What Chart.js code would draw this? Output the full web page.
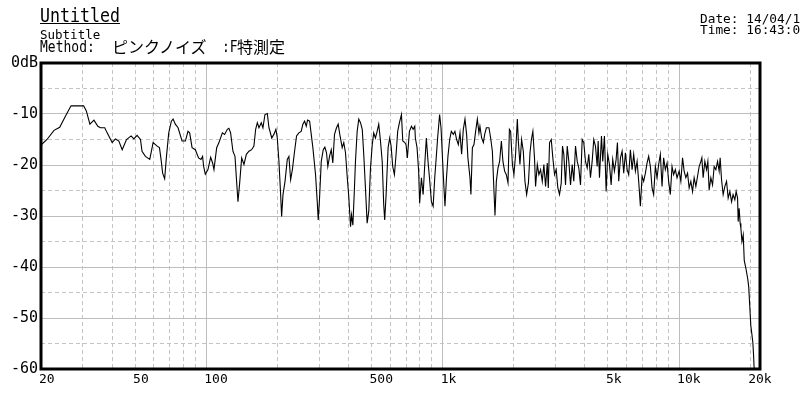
<!DOCTYPE html>
<html><head><meta charset="utf-8">
<script src="https://cdn.jsdelivr.net/npm/chart.js@4"></script>
<style>
html,body{margin:0;padding:0;background:#fff;width:800px;height:400px;overflow:hidden}
#wrap{position:relative;width:800px;height:400px;overflow:hidden}
canvas{position:absolute;left:0;top:0}
.t{position:absolute;white-space:pre;color:#000;font-family:'DejaVu Sans Mono',monospace;transform-origin:0 0;line-height:1}
.j{position:absolute;white-space:pre;color:#000;font-family:'Noto Sans CJK JP',sans-serif;line-height:1;font-size:16px}
</style></head><body>
<div id="wrap">
<canvas id="c" width="800" height="400"></canvas>
<div class="t" style="left:40px;top:5px;font-size:20px;transform:scaleX(0.83);text-decoration:underline;text-decoration-thickness:1px">Untitled</div>
<div class="t" style="left:40px;top:29px;font-size:12.5px">Subtitle</div>
<div class="t" style="left:40px;top:38px;font-size:13px;transform:scaleY(1.27)">Method:</div>
<div class="j" style="left:112px;top:38px">ピンクノイズ</div>
<div class="t" style="left:222px;top:38px;font-size:13px;transform:scaleY(1.27)">:F</div>
<div class="j" style="left:237px;top:38px">特測定</div>
<div class="t" style="left:700px;top:13px;font-size:12.8px">Date: 14/04/1</div>
<div class="t" style="left:700px;top:24px;font-size:12.8px">Time: 16:43:0</div>
</div>
<script>
const freqHz = [20,21.2,22.7,24.0,25.4,26.8,30.3,31.1,32.2,33.5,34.8,35.7,37.2,38.1,40.0,41.3,42.7,44.1,46.0,48.1,49.4,51.0,52.7,53.5,55.3,57.7,59.6,62.0,63.4,64.4,65.4,66.7,67.8,69.4,71.2,72.4,74.0,76.0,79.0,81.6,83.7,85.1,87.1,89.9,92.8,95.0,96.5,97.5,99.1,
101.7,104.4,106.4,107.8,110.7,113.2,117.0,119.6,122.8,124.7,126.8,129.7,132.3,134.1,136.2,138.5,141.2,144.4,147.8,151.6,155.6,159.1,161.8,164.5,167.1,170.9,173.7,177.2,181.3,184.2,189.3,193.7,197.1,199.8,203.0,206.4,208.4,211.2,215.4,220.2,223.7,227.5,231.4,236.4,241.0,246.5,252.1,256.3,260.6,264.9,268.2,273.7,277.1,282.5,290.0,294.8,297.7,301.5,306.6,312.6,317.5,322.7,326.8,332.3,337.9,343.1,348.8,355.6,361.5,367.2,375.9,381.8,388.2,394.6,400.8,407.7,411.7,417.1,422.5,427.8,434.9,441.8,449.3,457.0,463.7,471.5,479.3,486.9,495.2,503.7,511.1,519.6,528.3,536.6,545.8,555.1,563.3,568.8,576.6,587.9,597.1,605.3,614.9,625.1,635.4,645.4,656.5,669.5,678.2,691.7,700.3,709.2,723.5,737.9,750.4,762.3,766.6,779.3,791.6,799.3,813.2,827.0,840.1,853.1,867.3,881.0,896.3,911.5,925.9,940.3,952.2,961.6,971.0,984.3,
1000,1013,1023,1037,1053,1071,1088,1110,1127,1146,1165,1184,1203,1223,1243,1263,1279,1305,1317,1336,1357,1379,1402,1424,1438,1462,1487,1506,1531,1570,1596,1623,1649,1665,1687,1714,1742,1772,1799,1829,1859,1890,1916,1939,1973,2002,2035,2070,2090,2123,2158,2194,2229,2266,2306,2342,2374,2408,2448,2472,2514,2553,2596,2639,2680,2725,2771,2798,2833,2880,2925,2974,3023,3071,3122,3175,3214,3255,3310,3365,3418,3475,3532,3587,3648,3709,3767,3829,3893,3954,4020,4088,4151,4220,4290,4357,4431,4505,4548,4607,4697,4756,4835,4916,4993,5077,5161,5241,5329,5418,5487,5557,5650,5743,5833,5931,6031,6124,6226,6330,6429,6537,6646,6750,6862,6976,7085,7204,7325,7439,7563,7688,7808,7939,8072,8198,8335,8473,8606,8750,8897,9036,9186,9339,9485,9644,9806,
10010,10177,10347,10509,10685,10864,11034,11218,11405,11584,11778,11975,12163,12366,12487,12646,12857,13072,13238,13407,13631,13858,14077,14311,14551,14779,14923,15128,15366,15622,15884,16133,16402,16677,16924,17217,17440,17683,17787,17954,18130,18264,18451,18682,18870,19183,19518,19712,19922,20118,20317,20519,20654,20772,20850];
const levelDb = [-16.1,-15.0,-13.2,-12.6,-10.4,-8.4,-8.4,-9.4,-12.0,-11.2,-12.4,-12.7,-12.7,-13.7,-15.6,-14.9,-15.3,-17.0,-15.0,-14.3,-14.9,-14.2,-15.0,-17.3,-18.3,-18.9,-15.6,-16.3,-16.6,-18.9,-21.6,-22.7,-18.6,-13.7,-11.4,-11.0,-12.0,-12.7,-15.3,-15.3,-13.4,-13.7,-16.6,-17.0,-18.6,-18.9,-18.3,-20.3,-21.8,
-20.9,-18.5,-19.6,-20.9,-16.6,-15.6,-13.7,-14.0,-13.0,-12.8,-13.7,-17.3,-18.3,-22.5,-27.2,-23.5,-18.6,-19.9,-17.9,-17.3,-17.0,-16.3,-13.0,-11.7,-12.7,-11.7,-12.7,-10.1,-9.9,-12.7,-14.7,-13.9,-13.0,-14.7,-19.3,-25.8,-30.1,-25.8,-23.2,-18.9,-18.3,-22.9,-20.9,-17.3,-14.3,-13.7,-13.4,-12.0,-11.4,-12.4,-11.2,-11.4,-13.4,-16.6,-21.9,-27.2,-30.8,-26.5,-19.3,-17.0,-16.5,-17.6,-20.3,-18.3,-17.0,-19.6,-14.0,-12.7,-12.0,-14.0,-16.6,-15.6,-17.6,-22.2,-26.2,-32.1,-29.8,-31.8,-25.8,-19.3,-13.4,-11.0,-11.7,-13.0,-17.9,-24.5,-31.4,-29.1,-20.6,-16.0,-13.7,-14.7,-13.4,-12.0,-15.3,-19.3,-27.8,-30.8,-25.8,-16.6,-14.7,-16.3,-20.3,-21.9,-17.9,-13.4,-11.7,-10.1,-15.3,-15.6,-16.0,-18.6,-13.4,-12.4,-13.0,-12.4,-14.7,-16.6,-21.2,-27.5,-22.5,-25.8,-19.9,-14.7,-19.3,-22.9,-27.2,-28.1,-22.5,-18.3,-14.7,-12.4,-10.1,-12.7,
-19.3,-24.5,-28.1,-22.9,-18.3,-15.0,-13.4,-14.0,-13.4,-15.0,-16.0,-13.7,-17.9,-13.0,-11.0,-14.0,-18.6,-22.5,-25.8,-16.6,-16.0,-13.4,-11.0,-13.7,-12.4,-14.7,-15.6,-14.0,-12.7,-12.7,-14.7,-17.3,-25.2,-29.9,-23.2,-20.6,-19.3,-15.3,-19.3,-21.2,-21.9,-23.5,-13.0,-13.4,-19.9,-21.9,-17.9,-11.0,-15.3,-19.9,-15.0,-17.3,-23.2,-25.8,-23.5,-17.6,-15.0,-13.4,-18.9,-24.2,-19.9,-21.9,-20.9,-23.2,-19.9,-24.2,-19.6,-24.5,-15.6,-15.0,-18.6,-21.9,-20.9,-24.5,-25.8,-23.5,-16.3,-17.9,-23.9,-16.3,-19.3,-23.9,-19.9,-23.2,-16.3,-19.3,-20.6,-23.9,-15.0,-15.6,-19.3,-20.6,-17.9,-22.5,-19.3,-15.0,-16.3,-20.3,-15.3,-22.5,-14.3,-19.3,-14.3,-25.2,-17.9,-19.9,-23.9,-18.9,-21.2,-18.9,-15.6,-23.2,-18.6,-17.3,-21.6,-17.6,-20.9,-21.9,-17.0,-20.9,-17.9,-21.2,-19.3,-23.2,-28.1,-22.2,-23.2,-21.6,-19.6,-18.3,-20.3,-24.5,-25.8,-20.3,-22.5,-19.9,-17.9,-24.2,-18.6,-20.9,-19.6,-23.2,-25.8,-20.3,-21.9,-20.9,-22.5,
-21.2,-23.2,-18.6,-21.2,-22.5,-21.6,-24.5,-23.2,-25.2,-22.5,-24.2,-22.2,-20.3,-19.3,-18.6,-22.5,-19.3,-20.9,-19.3,-24.9,-22.5,-23.9,-20.3,-20.9,-19.3,-21.2,-18.6,-22.9,-25.8,-24.2,-23.2,-26.5,-25.2,-27.2,-25.8,-26.8,-25.2,-26.5,-31.1,-28.5,-31.4,-32.4,-35.0,-33.7,-38.7,-40.3,-42.3,-43.9,-47.9,-51.5,-53.1,-54.8,-57.1,-59.7,-60];

const FREQ_MIN = 20, FREQ_MAX = 22000;
const DB_MIN = -60, DB_MAX = 0;
const xLabelValues = [20, 50, 100, 500, 1000, 5000, 10000, 20000];
const xLabelText = ['20', '50', '100', '500', '1k', '5k', '10k', '20k'];
const xSolidGrid = [100, 1000, 10000];
const xDashedGrid = [30,40,50,60,70,80,90,200,300,400,500,600,700,800,900,2000,3000,4000,5000,6000,7000,8000,9000,20000];
const yMajorTicks = [0, -10, -20, -30, -40, -50, -60];
const yMinorTicks = [-5, -15, -25, -35, -45, -55];

const SOLID = '#bdbdbd', DASH = '#c4c4c4', NONE = 'rgba(0,0,0,0)';
Chart.defaults.font.family = "'DejaVu Sans Mono', monospace";
Chart.defaults.color = '#000';

const framePlugin = {
  id: 'frame',
  afterDraw(chart) {
    const { ctx, chartArea: a } = chart;
    ctx.save();
    ctx.strokeStyle = '#000';
    ctx.lineWidth = 3;
    ctx.strokeRect(a.left, a.top, a.right - a.left, a.bottom - a.top);
    ctx.restore();
  }
};

const points = freqHz.map((f, i) => ({ x: f, y: levelDb[i] }));

new Chart(document.getElementById('c'), {
  type: 'line',
  data: { datasets: [{ data: points, borderColor: '#000', borderWidth: 1.1, pointRadius: 0, tension: 0, fill: false, xAxisID: 'x', yAxisID: 'y' }] },
  options: {
    responsive: false, animation: false, devicePixelRatio: 1,
    layout: { padding: { left: 0, top: 63, right: 40, bottom: 0 } },
    plugins: { legend: { display: false }, tooltip: { enabled: false }, title: { display: false } },
    scales: {
      x: {
        type: 'logarithmic', position: 'bottom', min: FREQ_MIN, max: FREQ_MAX,
        afterBuildTicks: s => { s.ticks = xLabelValues.map(v => ({ value: v })); },
        afterFit: s => { s.height = 31; },
        ticks: { autoSkip: false, maxRotation: 0, align: 'start', padding: 3, labelOffset: -2, font: { size: 13 },
          callback: v => { const i = xLabelValues.indexOf(v); return i >= 0 ? xLabelText[i] : ''; } },
        grid: { drawTicks: false, color: c => (c.tick && xSolidGrid.includes(c.tick.value)) ? SOLID : NONE },
        border: { display: false }
      },
      xMinor: {
        type: 'logarithmic', position: 'bottom', min: FREQ_MIN, max: FREQ_MAX,
        afterBuildTicks: s => { s.ticks = xDashedGrid.map(v => ({ value: v })); },
        afterFit: s => { s.height = 0; },
        ticks: { display: false },
        grid: { drawTicks: false, color: DASH },
        border: { display: false, dash: [4, 3] }
      },
      y: {
        type: 'linear', position: 'left', min: DB_MIN, max: DB_MAX,
        afterBuildTicks: s => { s.ticks = yMajorTicks.map(v => ({ value: v })); },
        afterFit: s => { s.width = 41; },
        ticks: { padding: 3, font: { size: 15 }, callback: v => v === 0 ? '0dB' : String(v) },
        grid: { drawTicks: false, color: SOLID },
        border: { display: false }
      },
      yMinor: {
        type: 'linear', position: 'left', min: DB_MIN, max: DB_MAX,
        afterBuildTicks: s => { s.ticks = yMinorTicks.map(v => ({ value: v })); },
        afterFit: s => { s.width = 0; },
        ticks: { display: false },
        grid: { drawTicks: false, color: DASH },
        border: { display: false, dash: [4, 3] }
      }
    }
  },
  plugins: [framePlugin]
});
</script>
</body></html>
